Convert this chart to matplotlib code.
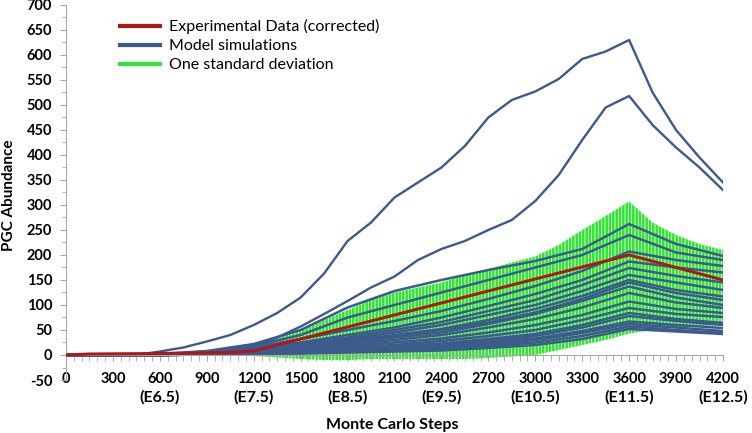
import matplotlib
matplotlib.use('Agg')
import matplotlib.pyplot as plt
import numpy as np
from matplotlib.ticker import MultipleLocator

plt.rcParams['font.family'] = ['Lato', 'DejaVu Sans']
plt.rcParams['hatch.linewidth'] = 0.55
plt.rcParams['axes.unicode_minus'] = False

# ---------------- data ----------------
steps_fine = np.arange(0, 4201, 150)
steps_coarse = np.arange(0, 4201, 300)

exp_steps = [0, 150, 600, 1050, 1200, 1800, 2400, 3000, 3600, 4200]
exp_values = [0, 2, 3, 5, 8, 56, 104, 152, 200, 150]

sd_upper = [0, 0, 0, 1, 3, 6, 10, 14, 20, 35, 50, 70, 90, 110, 125, 135, 145,
            160, 172, 185, 197, 220, 250, 278, 307, 265, 240, 222, 210]
sd_lower = [0, 0, 0, -1, -2, -2, -2, -2, -2, -5, -8, -10, -10, -8, -8, -8, -8,
            -8, -6, -3, 0, 10, 20, 30, 43, 50, 55, 58, 60]

sim_high_1 = [0, 0, 0, 0, 7, 15, 27, 40, 60, 84, 115, 163, 228, 265, 315, 345,
              375, 418, 475, 510, 527, 552, 592, 607, 630, 525, 450, 395, 345]
sim_high_2 = [0, 0, 0, 0, 2, 4, 7, 11, 18, 35, 57, 82, 108, 135, 157, 190,
              212, 228, 250, 270, 308, 360, 430, 495, 518, 460, 415, 375, 330]

sim_band = [
    [0, 0, 2, 8, 22, 50, 95, 128, 150, 170, 188, 212, 262, 222, 198],
    [0, 0, 1, 6, 18, 40, 75, 100, 125, 150, 175, 200, 240, 205, 190],
    [0, 0, 1, 5, 15, 32, 50, 68, 88, 112, 138, 168, 207, 190, 178],
    [0, 0, 1, 4, 12, 25, 40, 55, 75, 98, 122, 150, 187, 175, 165],
    [0, 0, 1, 4, 10, 22, 35, 50, 66, 88, 110, 140, 174, 158, 145],
    [0, 0, 1, 3, 9, 20, 32, 45, 60, 80, 100, 128, 160, 145, 130],
    [0, 0, 0, 3, 8, 18, 28, 40, 52, 70, 92, 118, 150, 130, 117],
    [0, 0, 0, 2, 7, 15, 25, 35, 45, 62, 82, 108, 137, 115, 100],
    [0, 0, 0, 2, 6, 13, 22, 30, 40, 55, 72, 95, 124, 105, 94],
    [0, 0, 0, 2, 5, 11, 18, 25, 33, 45, 60, 80, 107, 92, 84],
    [0, 0, 0, 1, 4, 9, 15, 20, 28, 38, 50, 70, 94, 82, 76],
    [0, 0, 0, 1, 3, 8, 12, 17, 23, 32, 42, 60, 84, 72, 64],
    [0, 0, 0, 1, 3, 6, 9, 13, 18, 25, 33, 48, 67, 60, 54],
    [0, 0, 0, 1, 2, 4, 6, 9, 12, 18, 25, 38, 57, 50, 44],
    [0, 0, 0, 1, 3, 7, 11, 16, 20, 28, 38, 55, 78, 68, 60],
    [0, 0, 0, 1, 2, 5, 8, 11, 15, 21, 30, 44, 62, 55, 48],
    [0, 0, 0, 1, 2, 3, 5, 7, 9, 14, 20, 32, 52, 47, 42],
    [0, 0, 1, 3, 8, 16, 30, 38, 50, 65, 85, 112, 145, 124, 110],
]

major_ticks = [0, 300, 600, 900, 1200, 1500, 1800, 2100, 2400, 2700, 3000,
               3300, 3600, 3900, 4200]
stage_ticks = [600, 1200, 1800, 2400, 3000, 3600, 4200]
stage_labels = ['(E6.5)', '(E7.5)', '(E8.5)', '(E9.5)', '(E10.5)', '(E11.5)', '(E12.5)']

red = '#b01818'
blue = '#3c5a8c'
green = '#2ee62e'

# ---------------- plot ----------------
fig = plt.figure(figsize=(7.52, 4.33), dpi=100)
ax = fig.add_axes([0.0878, 0.1224, 0.8736, 0.8661])

ax.fill_between(steps_fine, sd_lower, sd_upper, facecolor=green,
                edgecolor='white', hatch='|||||', linewidth=0, zorder=1)

ax.plot(steps_fine, sim_high_1, color=blue, lw=1.7, zorder=2)
ax.plot(steps_fine, sim_high_2, color=blue, lw=1.7, zorder=2)
for line in sim_band:
    ax.plot(steps_coarse, line, color=blue, lw=1.8, zorder=2)

ax.plot(exp_steps, exp_values, color=red, lw=2.2, zorder=3)

ax.set_xlim(0, 4200)
ax.set_ylim(-50, 700)

for s in ['top', 'right']:
    ax.spines[s].set_visible(False)
ax.spines['bottom'].set_position(('data', 0))
ax.spines['bottom'].set_color('#a6a6a6')
ax.spines['left'].set_color('#a6a6a6')

ax.set_xticks(major_ticks)
ax.xaxis.set_minor_locator(MultipleLocator(50))
ax.yaxis.set_major_locator(MultipleLocator(50))
ax.yaxis.set_minor_locator(MultipleLocator(25))
ax.tick_params(axis='x', which='both', direction='out', length=4,
               color='#a6a6a6', pad=8, labelsize=10.5)
ax.tick_params(axis='y', which='major', direction='out', length=4,
               color='#a6a6a6', pad=6, labelsize=10.5)
ax.tick_params(axis='y', which='minor', direction='out', length=3,
               color='#a6a6a6')
for lab in ax.get_xticklabels() + ax.get_yticklabels():
    lab.set_fontweight('bold')

for x, lab in zip(stage_ticks, stage_labels):
    ax.text(x, -0.046, lab, transform=ax.get_xaxis_transform(),
            ha='center', va='center', fontsize=11.5, fontweight='bold')

ax.text(0.496, -0.12, 'Monte Carlo Steps', transform=ax.transAxes,
        ha='center', va='center', fontsize=11.5, fontweight='bold')
fig.text(0.012, 0.55, 'PGC Abundance', rotation=90, ha='center', va='center',
         fontsize=11, fontweight='bold')

handles = [plt.Line2D([], [], color=red, lw=3),
           plt.Line2D([], [], color=blue, lw=3),
           plt.Line2D([], [], color=green, lw=3)]
ax.legend(handles, ['Experimental Data (corrected)', 'Model simulations',
                    'One standard deviation'],
          loc='upper left', bbox_to_anchor=(0.06, 1.0), frameon=False,
          fontsize=11.5, handlelength=2.5, handletextpad=0.6, labelspacing=0.3)

fig.savefig('out.png', dpi=100)
